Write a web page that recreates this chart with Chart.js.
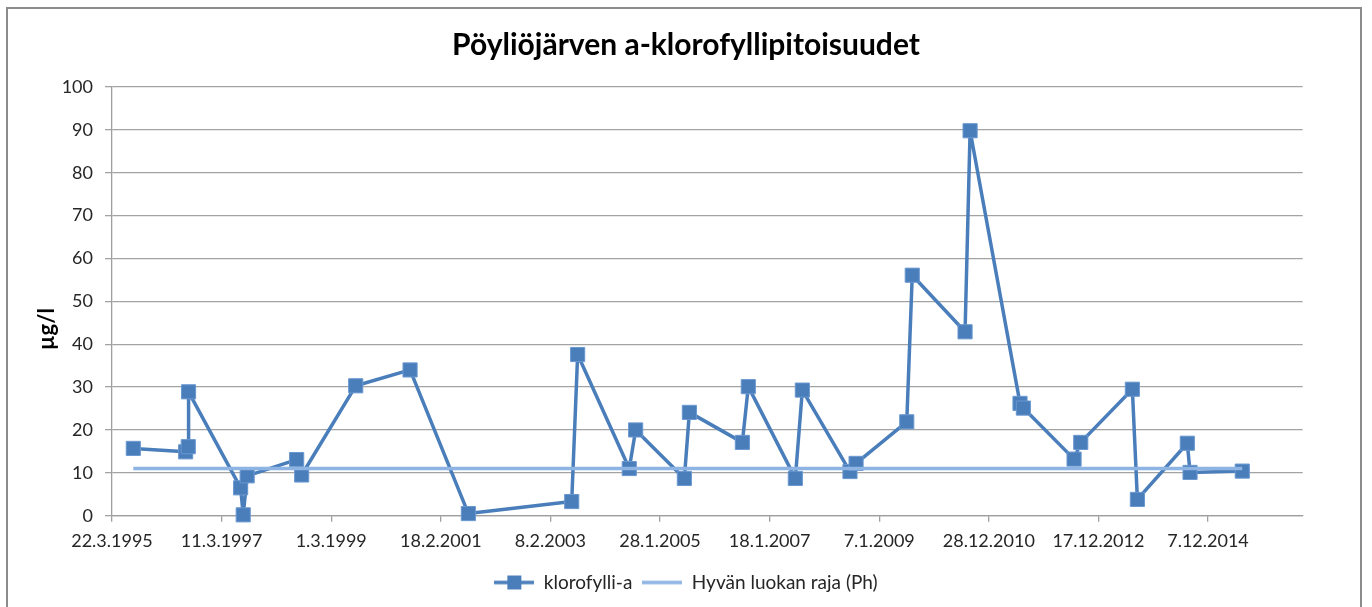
<!DOCTYPE html>
<html>
<head>
<meta charset="utf-8">
<script src="https://cdn.jsdelivr.net/npm/chart.js@4"></script>
<style>
  html, body { margin: 0; padding: 0; background: #fff; overflow: hidden; }
  #wrap { position: relative; width: 1372px; height: 607px; }
  #frame { position: absolute; left: 6px; top: 7px; width: 1356px; height: 640px; border: 2px solid #8c8c8c; box-sizing: border-box; pointer-events: none; }
  canvas { position: absolute; left: 0; top: 0; }
</style>
</head>
<body>
<div id="wrap">
  <canvas id="c" width="1372" height="607"></canvas>
  <div id="frame"></div>
</div>
<script>
// ---- data ----
const sampleDates = ['1995-08-09','1996-07-18','1996-08-04','1996-08-06','1997-07-14','1997-07-31','1997-08-26',
  '1998-07-17','1998-08-19','1999-08-09','2000-07-31','2001-08-18','2003-06-28','2003-08-06','2004-07-10',
  '2004-08-21','2005-07-07','2005-08-09','2006-07-23','2006-08-31','2007-07-06','2007-08-21','2008-06-29',
  '2008-08-08','2009-07-07','2009-08-12','2010-07-25','2010-08-27','2011-07-21','2011-08-12','2012-07-10',
  '2012-08-23','2013-07-28','2013-08-30','2014-07-24','2014-08-11','2015-07-20'];
const chlorophyll = [15.7,14.9,16.1,28.9,6.5,0.2,9.3,13.1,9.5,30.3,34.0,0.5,3.3,37.6,11.0,20.0,8.7,24.1,17.1,30.1,
  8.7,29.3,10.3,12.2,21.9,56.1,42.9,89.8,26.2,25.1,13.2,17.1,29.5,3.8,16.9,10.1,10.4];
const limitDates = ['1995-08-09','2015-07-20'];
const limitValues = [11, 11];
const xTickLabels = ['22.3.1995','11.3.1997','1.3.1999','18.2.2001','8.2.2003','28.1.2005','18.1.2007',
  '7.1.2009','28.12.2010','17.12.2012','7.12.2014'];
const xMinDate = '1995-03-22';
const xMaxDate = '2016-08-20';
const seriesNames = ['klorofylli-a', 'Hyvän luokan raja (Ph)'];
const chartTitle = 'Pöyliöjärven a-klorofyllipitoisuudet';
const yTitle = 'µg/l';

// ---- helpers ----
const isoToDay = s => { const [y, m, d] = s.split('-').map(Number); return Date.UTC(y, m - 1, d) / 86400000; };
const fiToDay = s => { const [d, m, y] = s.split('.').map(Number); return Date.UTC(y, m - 1, d) / 86400000; };
const tickDays = xTickLabels.map(fiToDay);

const BLUE = '#4a7ebb';
const LIGHT = '#8db4e3';
const FONT = 'Lato, "Open Sans", sans-serif';

function legendIcon(withMarker, color) {
  const c = document.createElement('canvas');
  c.width = 40; c.height = 16;
  const g = c.getContext('2d');
  g.strokeStyle = color; g.lineWidth = 3.5;
  g.beginPath(); g.moveTo(0, 8); g.lineTo(40, 8); g.stroke();
  if (withMarker) { g.fillStyle = color; g.fillRect(13, 1, 14, 14); }
  return c;
}
const icons = [legendIcon(true, BLUE), legendIcon(false, LIGHT)];

const PAD_BOTTOM = 5;
const PLOT_BOTTOM = 515.7;

const yTitlePlugin = {
  id: 'yTitle',
  afterDraw(chart) {
    const ctx = chart.ctx;
    ctx.save();
    ctx.translate(47, 329);
    ctx.rotate(-Math.PI / 2);
    ctx.font = 'bold 22px ' + FONT;
    ctx.fillStyle = '#000';
    ctx.textAlign = 'center';
    ctx.textBaseline = 'middle';
    ctx.fillText(yTitle, 0, 0);
    ctx.restore();
  }
};

new Chart(document.getElementById('c'), {
  type: 'line',
  data: {
    datasets: [
      {
        label: seriesNames[0],
        data: sampleDates.map((d, i) => ({ x: isoToDay(d), y: chlorophyll[i] })),
        borderColor: BLUE,
        backgroundColor: BLUE,
        borderWidth: 3.5,
        borderJoinStyle: 'round',
        pointStyle: 'rect',
        pointRadius: 10,
        pointHoverRadius: 10,
        pointBackgroundColor: BLUE,
        pointBorderColor: '#6a98d0',
        pointBorderWidth: 1,
        tension: 0,
        clip: false,
        order: 1
      },
      {
        label: seriesNames[1],
        data: limitDates.map((d, i) => ({ x: isoToDay(d), y: limitValues[i] })),
        borderColor: LIGHT,
        backgroundColor: LIGHT,
        borderWidth: 3.5,
        pointRadius: 0,
        pointHoverRadius: 0,
        tension: 0,
        order: 0
      }
    ]
  },
  options: {
    responsive: false,
    animation: false,
    events: [],
    layout: { padding: { left: 0, right: 0, top: 0, bottom: PAD_BOTTOM } },
    plugins: {
      title: {
        display: true,
        text: chartTitle,
        color: '#000',
        font: { family: FONT, size: 30, weight: 'bold', lineHeight: 1.2 },
        padding: { top: 27, bottom: 24 }
      },
      legend: {
        position: 'bottom',
        labels: {
          usePointStyle: true,
          pointStyleWidth: 40,
          padding: 10,
          color: '#262626',
          font: { family: FONT, size: 19 },
          generateLabels(chart) {
            return chart.data.datasets.map((ds, i) => ({
              text: ds.label,
              pointStyle: icons[i],
              fillStyle: ds.borderColor,
              strokeStyle: ds.borderColor,
              lineWidth: 0,
              hidden: false,
              datasetIndex: i,
              fontColor: '#262626'
            }));
          }
        }
      },
      tooltip: { enabled: false }
    },
    scales: {
      x: {
        type: 'linear',
        min: isoToDay(xMinDate),
        max: isoToDay(xMaxDate),
        afterBuildTicks(scale) { scale.ticks = tickDays.map(v => ({ value: v })); },
        afterFit(scale) { scale.height = 607 - PLOT_BOTTOM - scale.chart.legend.height - PAD_BOTTOM; },
        ticks: {
          autoSkip: false,
          maxRotation: 0,
          padding: 9,
          color: '#262626',
          font: { family: FONT, size: 18 },
          callback(v, i) { return xTickLabels[i]; }
        },
        grid: { display: true, drawOnChartArea: false, drawTicks: true, tickLength: 6, color: '#9e9e9e', lineWidth: 1.3 },
        border: { display: true, color: '#9e9e9e', width: 1.3 }
      },
      y: {
        min: 0,
        max: 100,
        afterFit(scale) { scale.width = 112; },
        ticks: {
          stepSize: 10,
          padding: 12,
          color: '#262626',
          font: { family: FONT, size: 18 }
        },
        grid: { color: '#a3a3a3', lineWidth: 1.3, drawTicks: true, tickLength: 7 },
        border: { display: true, color: '#9e9e9e', width: 1.3 }
      },
      yRightSpace: {
        position: 'right',
        min: 0,
        max: 100,
        afterFit(scale) { scale.width = 69.3; },
        ticks: { display: false },
        grid: { display: false, drawOnChartArea: false },
        border: { display: false }
      }
    }
  },
  plugins: [yTitlePlugin]
});
</script>
</body>
</html>
